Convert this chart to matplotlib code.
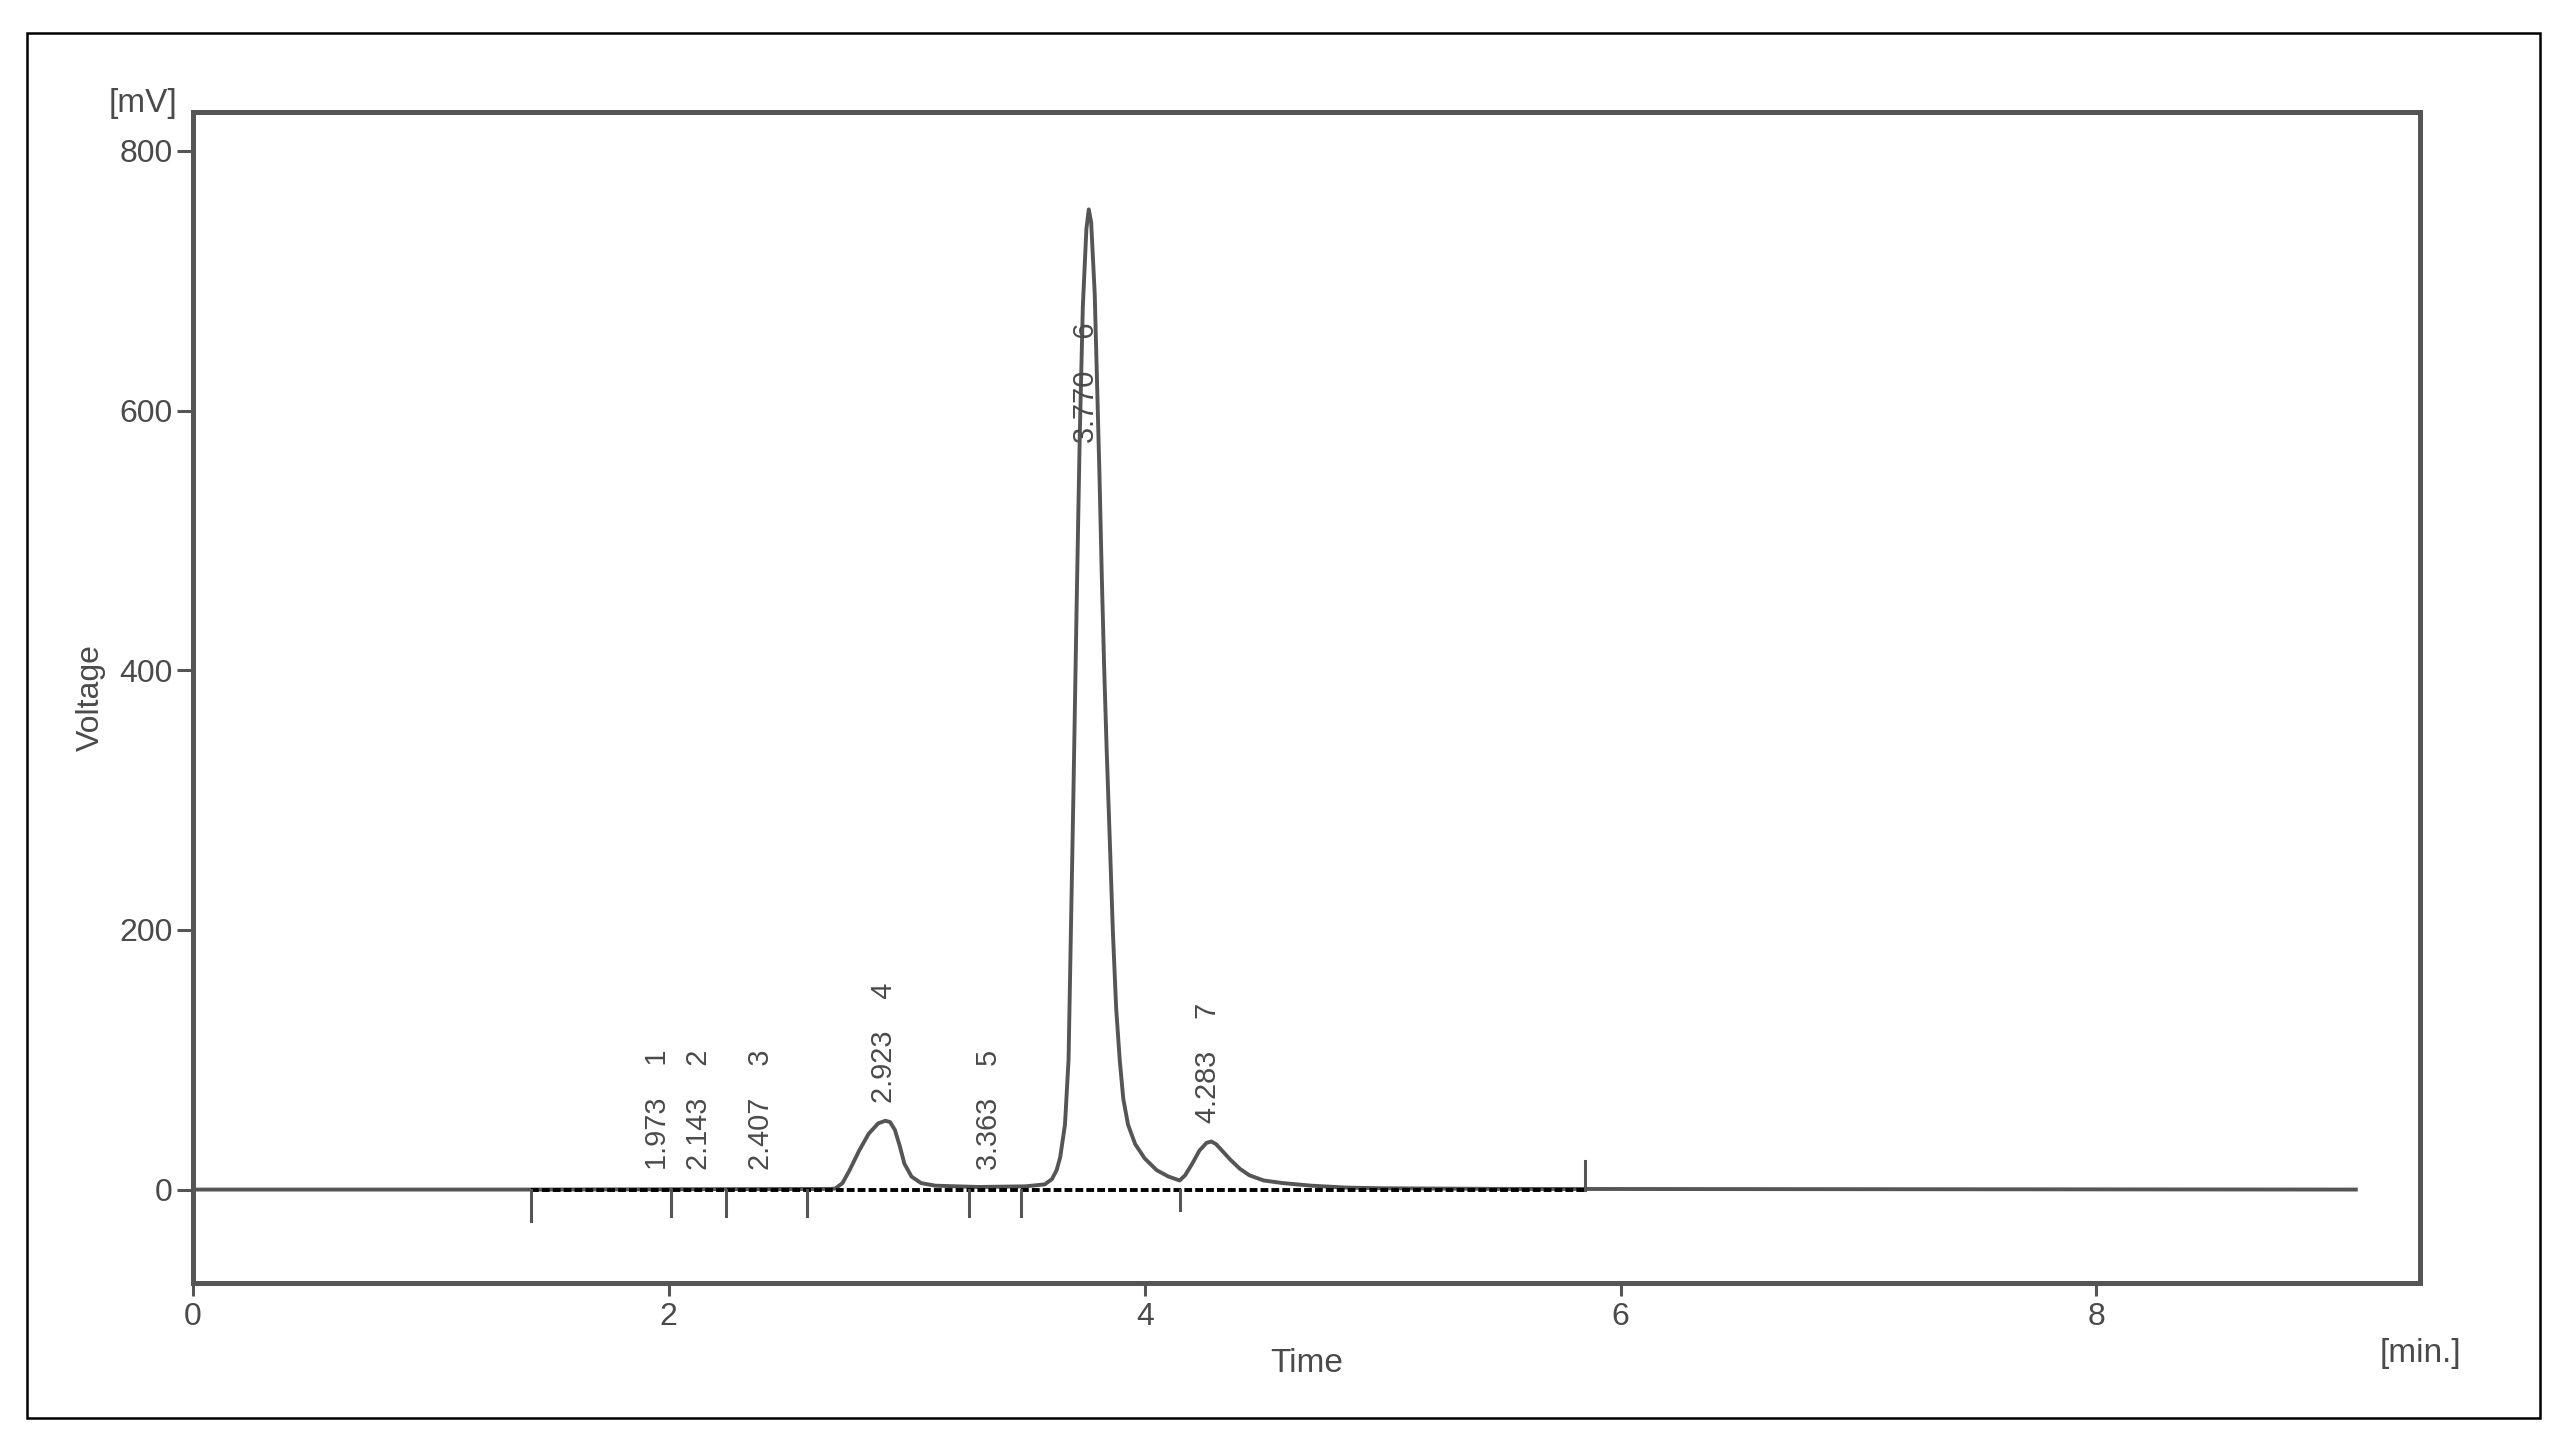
import numpy as np
import matplotlib.pyplot as plt
from matplotlib.patches import Rectangle

plt.rcParams['font.family'] = ['Liberation Sans', 'DejaVu Sans']

# chromatogram trace (time in min, signal in mV)
trace_time = [0.00, 1.40, 2.68, 2.70, 2.73, 2.76, 2.80, 2.84, 2.88, 2.91, 2.93,
              2.95, 2.97, 2.99, 3.02, 3.06, 3.12, 3.30, 3.50, 3.58, 3.61, 3.63,
              3.645, 3.665, 3.68, 3.69, 3.70, 3.714, 3.727, 3.74, 3.755, 3.765,
              3.775, 3.79, 3.80, 3.81, 3.82, 3.83, 3.84, 3.855, 3.866, 3.88,
              3.895, 3.91, 3.93, 3.96, 4.00, 4.05, 4.10, 4.147, 4.17, 4.20,
              4.23, 4.26, 4.28, 4.30, 4.33, 4.36, 4.40, 4.44, 4.50, 4.58, 4.70,
              4.85, 5.00, 5.50, 9.09]
trace_mv = [0.0, 0.0, 0.5, 0.8, 5.0, 15.0, 30.0, 43.0, 51.0, 53.0, 52.0,
            46.0, 34.0, 20.0, 10.0, 5.0, 3.0, 2.0, 2.5, 4.0, 8.0, 15.0,
            25.0, 50.0, 100.0, 200.0, 300.0, 450.0, 580.0, 680.0, 740.0, 755.0,
            745.0, 690.0, 620.0, 550.0, 470.0, 400.0, 340.0, 260.0, 200.0, 140.0,
            100.0, 70.0, 50.0, 35.0, 24.0, 15.0, 10.0, 7.0, 11.0, 20.0,
            30.0, 36.0, 37.0, 35.0, 29.0, 23.0, 16.0, 11.0, 7.0, 5.0, 3.0,
            1.5, 1.0, 0.5, 0.0]

# peak table
peak_rt = ['1.973', '2.143', '2.407', '2.923', '3.363', '3.770', '4.283']
peak_num = ['1', '2', '3', '4', '5', '6', '7']
peak_height = [1, 1, 1, 53, 1, 755, 37]

# integration boundaries (min) and end-of-integration mark
boundaries = [1.42, 2.01, 2.24, 2.58, 3.26, 3.48, 4.15]
integration_end = 5.85

y_ticks = [0, 200, 400, 600, 800]
x_ticks = [0, 2, 4, 6, 8]

grey = '#555555'
txt = '#4a4a4a'

fig = plt.figure(figsize=(12.81, 7.20), dpi=200)
fig.patches.append(Rectangle((0.0105, 0.0153), 0.9809, 0.9617, transform=fig.transFigure,
                             fill=False, edgecolor='black', linewidth=0.9))
ax = fig.add_axes([0.0753, 0.1090, 0.8693, 0.8132])

ax.plot(trace_time, trace_mv, color=grey, linewidth=1.4, solid_joinstyle='round')

# dotted integration baseline
ax.plot([boundaries[0], integration_end], [0, 0], color='black', linewidth=1.4,
        linestyle=(0, (2, 0.8)))
for i, b in enumerate(boundaries):
    depth = -24 if i == 0 else (-16 if b > 4 else -20)
    ax.plot([b, b], [0, depth], color=grey, linewidth=1.1)
ax.plot([integration_end, integration_end], [0, 22], color=grey, linewidth=1.1)

# peak labels
for rt, num, h in zip(peak_rt, peak_num, peak_height):
    ybot = h + 14 if h < 700 else h - 180
    ax.text(float(rt) - 0.018, ybot, rt + '    ' + num, rotation=90, ha='center',
            va='bottom', fontsize=10.4, color=txt)

ax.set_xlim(0, 9.36)
ax.set_ylim(-72, 830)
ax.set_xticks(x_ticks)
ax.set_yticks(y_ticks)
ax.tick_params(axis='y', direction='out', length=5.8, width=1.1, pad=1.4,
               labelsize=11.5, colors=grey, labelcolor=txt)
ax.tick_params(axis='x', direction='out', length=4.7, width=1.1, pad=2.0,
               labelsize=11.5, colors=grey, labelcolor=txt)
for s in ax.spines.values():
    s.set_color(grey)
    s.set_linewidth(1.8)

ax.set_ylabel('Voltage', fontsize=11.5, color=txt)
ax.yaxis.set_label_coords(-0.046, 0.5)
ax.yaxis.label.set_va('center')
ax.set_xlabel('Time', fontsize=12, color=txt)
ax.xaxis.set_label_coords(0.5, -0.069)
ax.xaxis.label.set_va('center')

fig.text(0.0691, 0.9278, '[mV]', ha='right', va='center', fontsize=12, color=txt)
fig.text(0.9446, 0.0604, '[min.]', ha='center', va='center', fontsize=12, color=txt)

fig.savefig('out.png', dpi=200)
